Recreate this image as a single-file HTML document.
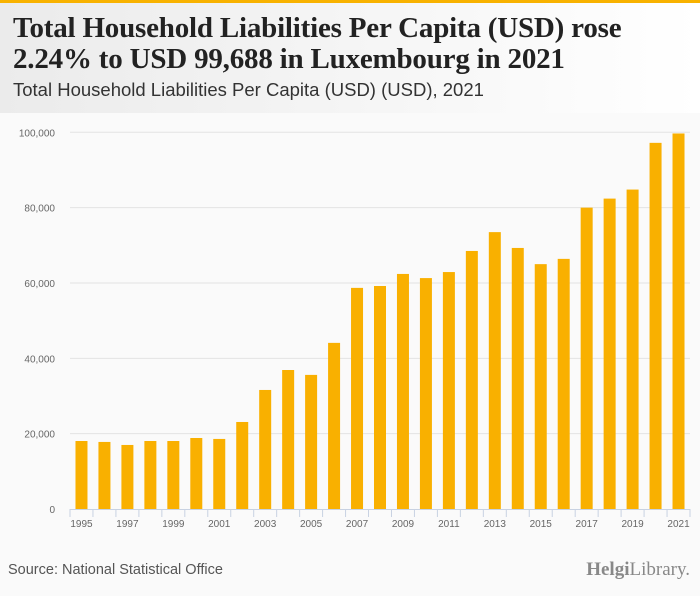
<!DOCTYPE html>
<html><head><meta charset="utf-8"><style>
body{margin:0;width:700px;height:596px;background:#fafafa;overflow:hidden;font-family:"Liberation Sans",sans-serif;position:relative}
#hdr{position:absolute;left:0;top:0;width:700px;height:113px;background:linear-gradient(90deg,#ebebeb,#ffffff)}
#bar{position:absolute;left:0;top:0;width:700px;height:3px;background:#f8b200}
#title{position:absolute;left:13px;top:13px;font-family:"Liberation Serif",serif;font-weight:bold;font-size:29px;line-height:31px;color:#222;letter-spacing:-0.2px;white-space:nowrap}
#sub{position:absolute;left:13px;top:79px;font-size:18.5px;color:#333;white-space:nowrap}
#src{position:absolute;left:8px;top:562px;font-size:14.5px;color:#555}
#logo{position:absolute;right:10px;top:559px;font-family:"Liberation Serif",serif;font-size:19px;color:#888}
svg{position:absolute;left:0;top:0}
</style></head><body>
<div id="hdr"></div>
<div id="bar"></div>
<div id="title">Total Household Liabilities Per Capita (USD) rose<br>2.24% to USD 99,688 in Luxembourg in 2021</div>
<div id="sub">Total Household Liabilities Per Capita (USD) (USD), 2021</div>
<svg id="chart" width="700" height="596"></svg>
<div id="src">Source: National Statistical Office</div>
<div id="logo"><b>Helgi</b>Library.</div>
<script>
const years=[1995,1996,1997,1998,1999,2000,2001,2002,2003,2004,2005,2006,2007,2008,2009,2010,2011,2012,2013,2014,2015,2016,2017,2018,2019,2020,2021];
const values=[18050,17800,17000,18050,18050,18850,18600,23100,31600,36900,35600,44100,58700,59200,62400,61300,62900,68500,73500,69300,65000,66400,80000,82400,84800,97200,99688];
const yTicks=[0,20000,40000,60000,80000,100000];
const yTickLabels=["0","20,000","40,000","60,000","80,000","100,000"];
const svg=document.getElementById('chart');const NS='http://www.w3.org/2000/svg';
const x0=70,x1=690,yb=509,yt=132.3;
const band=(x1-x0)/years.length;
const y=v=>yb-(v/100000)*(yb-yt);
const xc=i=>x0+band*(i+0.5);
function mk(t,a){const e=document.createElementNS(NS,t);for(const k in a)e.setAttribute(k,a[k]);svg.appendChild(e);return e;}
yTicks.forEach((v,i)=>{
 if(v>0){const g=mk('line',{x1:x0,x2:x1,y1:y(v),y2:y(v),stroke:'#e3e3e3','stroke-width':1});
 
 }
 const t=mk('text',{x:55,y:y(v)+4,'text-anchor':'end','font-size':10,fill:'#666','font-family':'Liberation Sans, sans-serif'});
 t.textContent=yTickLabels[i];
 
 
});
values.forEach((v,i)=>{
 const r=mk('rect',{x:xc(i)-6,y:y(v),width:12,height:yb-y(v),fill:'#f9b000'});
 
 
});
const ax=mk('line',{x1:x0,x2:x1,y1:yb+0.5,y2:yb+0.5,stroke:'#c8d2e2','stroke-width':1});


for(let i=0;i<=years.length;i++){
 const tk=mk('line',{x1:x0+band*i,x2:x0+band*i,y1:yb,y2:yb+8,stroke:'#c8d2e2','stroke-width':1});
 
 
}
years.forEach((yr,i)=>{
 if(i%2)return;
 const t=mk('text',{x:xc(i),y:yb+18,'text-anchor':'middle','font-size':10,fill:'#666','font-family':'Liberation Sans, sans-serif'});
 t.textContent=yr;
 
 
});
</script>
</body></html>
